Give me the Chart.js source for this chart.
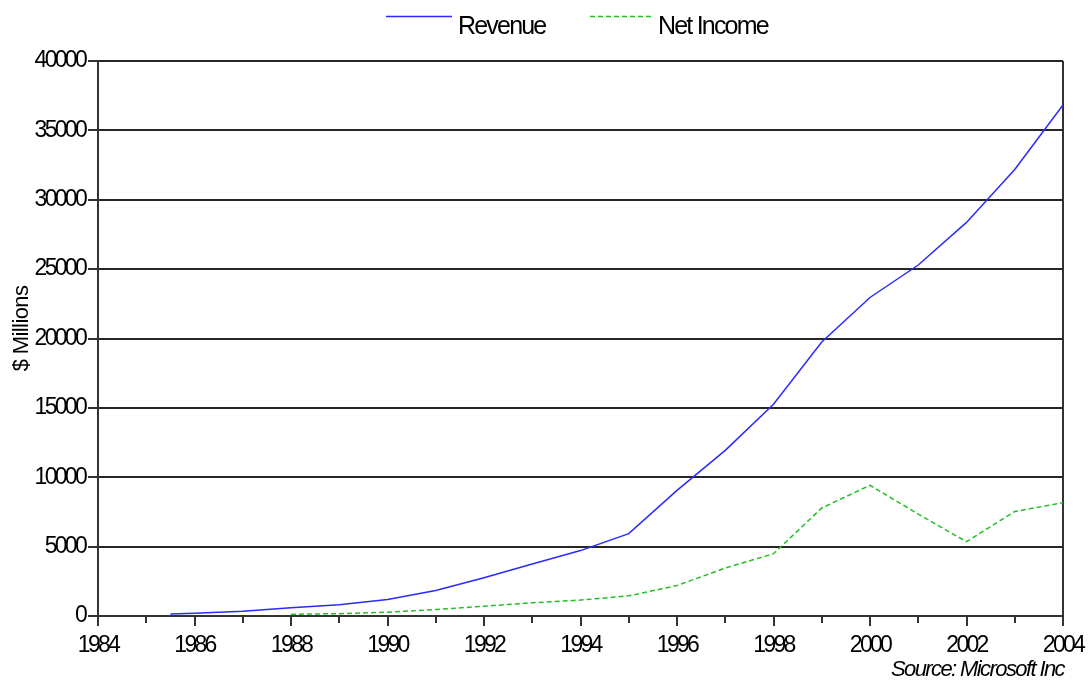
<!DOCTYPE html>
<html>
<head>
<meta charset="utf-8">
<title>Microsoft Revenue and Net Income</title>
<script src="https://cdn.jsdelivr.net/npm/chart.js@4/dist/chart.umd.min.js"></script>
<style>
  html, body { margin: 0; padding: 0; background: #ffffff; }
  #wrap { width: 1090px; height: 686px; }
</style>
</head>
<body>
<div id="wrap"><canvas id="chart" width="1090" height="686"></canvas></div>
<script>
// Microsoft fiscal-year results, $ millions
const revenueYears  = [1985.5, 1986, 1987, 1988, 1989, 1990, 1991, 1992, 1993, 1994, 1995, 1996, 1997, 1998, 1999, 2000, 2001, 2002, 2003, 2004];
const revenueValues = [140, 197, 346, 591, 804, 1183, 1843, 2759, 3753, 4714, 5937, 9050, 11936, 15262, 19747, 22956, 25296, 28365, 32187, 36835];

const incomeYears  = [1988, 1989, 1990, 1991, 1992, 1993, 1994, 1995, 1996, 1997, 1998, 1999, 2000, 2001, 2002, 2003, 2004];
const incomeValues = [124, 171, 279, 463, 708, 953, 1146, 1453, 2195, 3454, 4490, 7785, 9421, 7346, 5355, 7531, 8168];

const seriesNames = ['Revenue', 'Net Income'];
const yAxisTitle = '$ Millions';
const sourceNote = 'Source: Microsoft Inc';

const xMin = 1984, xMax = 2004, xStep = 1;
const yMin = 0, yMax = 40000, yStep = 5000;

const FONT = "'Liberation Sans', Arial, sans-serif";
const TICK_SPACING = '-2.7px';

function toPoints(xs, ys) {
  return xs.map((x, i) => ({ x: x, y: ys[i] }));
}

// Tight letter spacing gives the narrow look of the axis lettering
const tightText = {
  id: 'tightText',
  beforeUpdate(chart) { chart.ctx.letterSpacing = TICK_SPACING; },
  beforeDraw(chart) { chart.ctx.letterSpacing = TICK_SPACING; }
};

// Legend across the top, the axis title and the source note
const annotations = {
  id: 'annotations',
  afterDraw(chart) {
    const ctx = chart.ctx;
    const area = chart.chartArea;
    const items = [
      { lineFrom: 386, lineTo: 452, textX: 458 },
      { lineFrom: 590, lineTo: 652, textX: 658 }
    ];
    ctx.save();
    chart.data.datasets.forEach((ds, i) => {
      const it = items[i];
      ctx.beginPath();
      ctx.strokeStyle = ds.borderColor;
      ctx.lineWidth = ds.borderWidth;
      ctx.setLineDash(ds.borderDash || []);
      ctx.moveTo(it.lineFrom, 16.5);
      ctx.lineTo(it.lineTo, 16.5);
      ctx.stroke();
      ctx.setLineDash([]);
      ctx.fillStyle = '#000000';
      ctx.letterSpacing = '-1.8px';
      ctx.font = '25px ' + FONT;
      ctx.textAlign = 'left';
      ctx.textBaseline = 'middle';
      ctx.fillText(ds.label, it.textX, 27);
    });

    // rotated axis title
    ctx.save();
    ctx.translate(22, (area.top + area.bottom) / 2 - 10);
    ctx.rotate(-Math.PI / 2);
    ctx.letterSpacing = '-0.6px';
    ctx.font = '22px ' + FONT;
    ctx.textAlign = 'center';
    ctx.textBaseline = 'middle';
    ctx.fillStyle = '#000000';
    ctx.fillText(yAxisTitle, 0, 0);
    ctx.restore();

    ctx.letterSpacing = '-1.6px';
    ctx.font = 'italic 22px ' + FONT;
    ctx.textAlign = 'right';
    ctx.textBaseline = 'middle';
    ctx.fillStyle = '#000000';
    ctx.fillText(sourceNote, area.right + 1, 670);
    ctx.restore();
  }
};

new Chart(document.getElementById('chart'), {
  type: 'line',
  data: {
    datasets: [
      {
        label: seriesNames[0],
        data: toPoints(revenueYears, revenueValues),
        borderColor: '#2a2aff',
        borderWidth: 1.5,
        pointRadius: 0,
        tension: 0,
        fill: false
      },
      {
        label: seriesNames[1],
        data: toPoints(incomeYears, incomeValues),
        borderColor: '#22c022',
        borderWidth: 1.5,
        borderDash: [5, 3],
        pointRadius: 0,
        tension: 0,
        fill: false
      }
    ]
  },
  options: {
    responsive: false,
    animation: false,
    events: [],
    layout: { padding: { top: 61, right: 27, bottom: 0, left: 0 } },
    plugins: {
      legend: { display: false },
      title: { display: false },
      tooltip: { enabled: false }
    },
    scales: {
      x: {
        type: 'linear',
        min: xMin,
        max: xMax,
        afterFit(scale) { scale.height = 70; },
        ticks: {
          stepSize: xStep,
          autoSkip: false,
          maxRotation: 0,
          padding: 6,
          color: '#000000',
          font: { family: FONT, size: 23 },
          callback: (v) => (v % 2 === 0 ? String(v) : '')
        },
        grid: {
          drawOnChartArea: true,
          color: (c) => (c.tick && c.tick.value === xMax ? '#333333' : 'rgba(0,0,0,0)'),
          lineWidth: 2,
          tickLength: 10,
          tickColor: '#333333',
          tickWidth: 2,
          tickBorderDash: (c) => (c.tick && c.tick.value % 2 !== 0 ? [6, 40] : [])
        },
        border: { display: true, color: '#333333', width: 2 }
      },
      y: {
        min: yMin,
        max: yMax,
        afterFit(scale) { scale.width = 98; },
        ticks: {
          stepSize: yStep,
          padding: 3,
          color: '#000000',
          font: { family: FONT, size: 23 },
          callback: (v) => String(v)
        },
        grid: {
          color: '#262626',
          lineWidth: 2,
          tickLength: 10,
          tickColor: '#333333',
          tickWidth: 2
        },
        border: { display: true, color: '#333333', width: 2 }
      }
    }
  },
  plugins: [tightText, annotations]
});
</script>
</body>
</html>
